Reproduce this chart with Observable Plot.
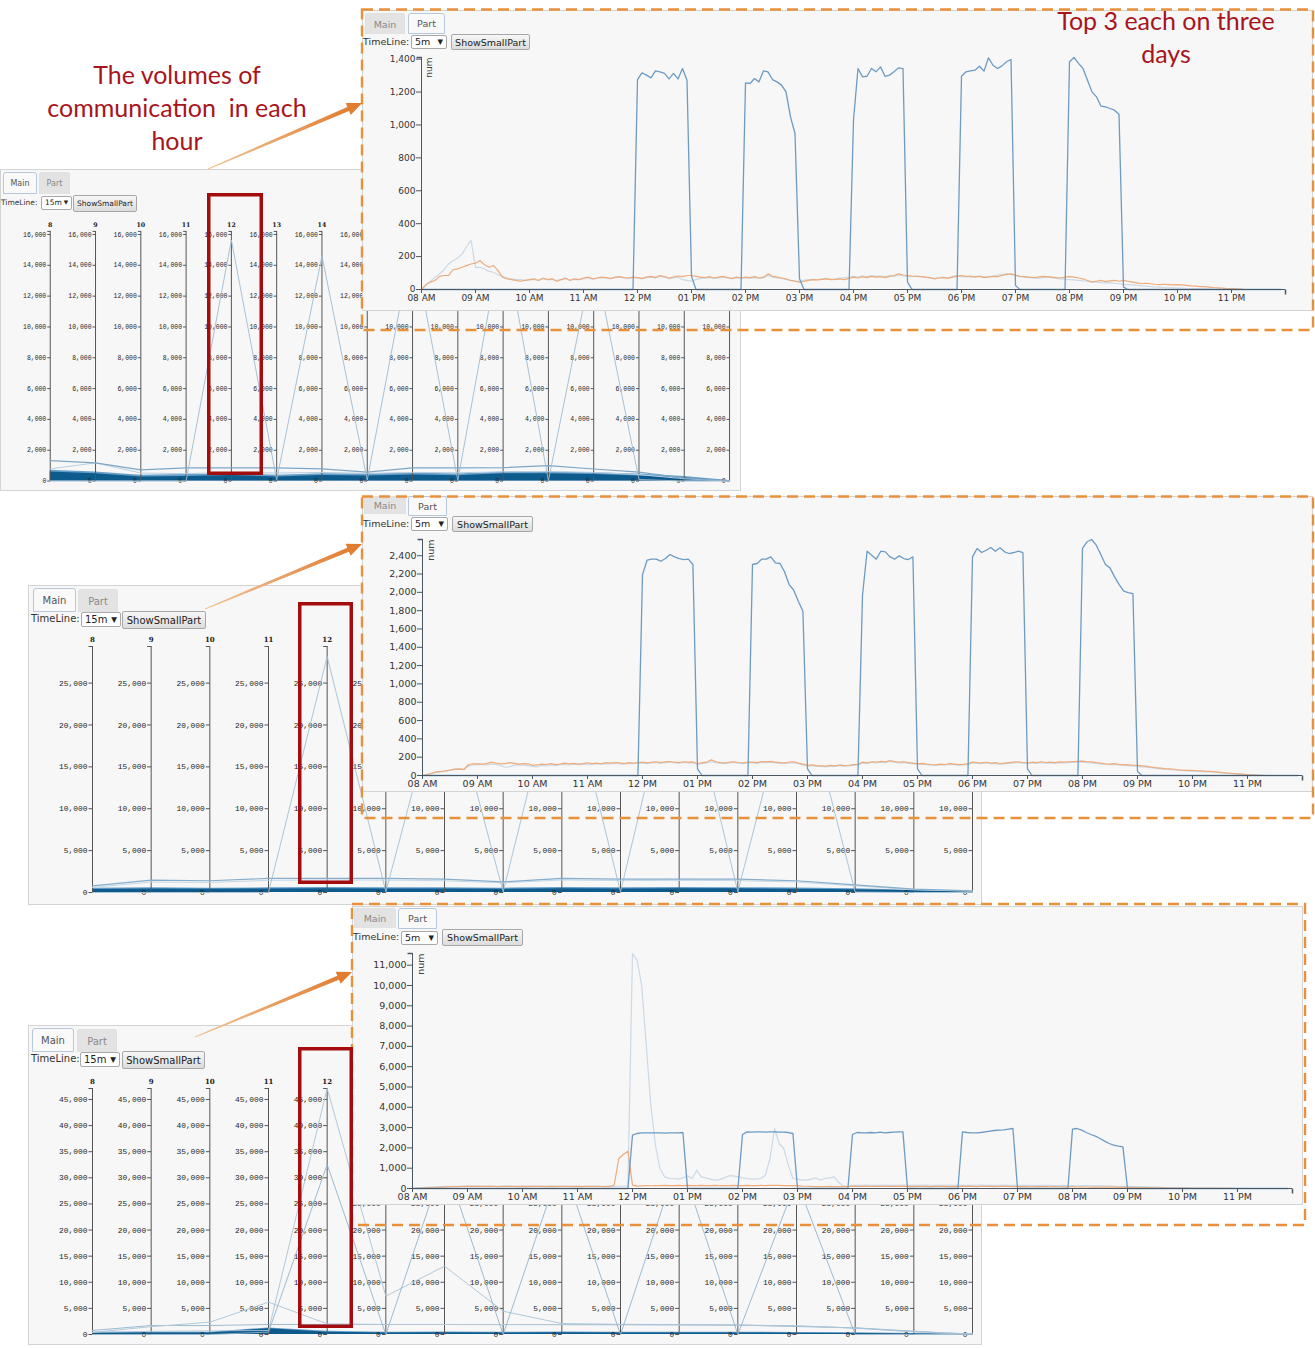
<!DOCTYPE html>
<html><head><meta charset="utf-8">
<script src="https://cdn.jsdelivr.net/npm/d3@7"></script>
<script src="https://cdn.jsdelivr.net/npm/@observablehq/plot@0.6"></script>
<style>
html,body{margin:0;padding:0;background:#fff;}
body{width:1315px;height:1348px;position:relative;overflow:hidden;font-family:"DejaVu Sans",sans-serif;}
.panel{position:absolute;background:#f7f7f7;box-shadow:inset 0 0 0 1px #d4d4d4;overflow:hidden;}
.panel svg{position:absolute;}
.tab{position:absolute;box-sizing:border-box;display:flex;align-items:center;justify-content:center;color:#8a8a8a;background:#e3e3e3;border:1px solid #e0e0e0;border-bottom:none;border-radius:3px 3px 0 0;}
.tab.on{background:#f9f9f9;border:1px solid #b7c8dc;color:#555;}
.lbl{position:absolute;line-height:1;color:#333;white-space:nowrap;}
.sel{position:absolute;box-sizing:border-box;border:1px solid #a9a9a9;background:#fff;color:#222;border-radius:2px;}
.sel .v{position:absolute;left:3px;top:50%;transform:translateY(-50%);line-height:1;}
.sel .a{position:absolute;right:3px;top:50%;transform:translateY(-55%);line-height:1;font-size:0.75em;}
.btn{position:absolute;box-sizing:border-box;border:1px solid #a8a8a8;background:linear-gradient(#f7f7f7,#dcdcdc);color:#222;display:flex;align-items:center;justify-content:center;border-radius:2px;white-space:nowrap;}
.note{position:absolute;color:#a8141c;font-family:Lato,"Open Sans",sans-serif;text-align:center;font-size:25px;line-height:33px;white-space:nowrap;}
#overlay{position:absolute;left:0;top:0;pointer-events:none;}
</style>
</head>
<body>

<div class="panel" id="m1" style="left:0;top:169px;width:741px;height:322px">
  <div class="tab on" style="left:3px;top:3px;width:34px;height:22px;font-size:8px">Main</div>
  <div class="tab" style="left:39px;top:3px;width:31px;height:22px;font-size:8px">Part</div>
  <div class="lbl" style="left:1px;top:30px;font-size:7.5px">TimeLine:</div>
  <div class="sel" style="left:41px;top:27px;width:31px;height:14px;font-size:7.5px"><span class="v">15m</span><span class="a">▼</span></div>
  <div class="btn" style="left:73px;top:26px;width:64px;height:17px;font-size:7.5px">ShowSmallPart</div>
</div>

<div class="panel" id="p1" style="left:362px;top:10px;width:951px;height:301px">
  <div class="tab" style="left:3px;top:3px;width:40px;height:21px;font-size:9.5px">Main</div>
  <div class="tab on" style="left:46px;top:3px;width:37px;height:21px;font-size:9.5px">Part</div>
  <div class="lbl" style="left:1px;top:27px;font-size:9.5px">TimeLine:</div>
  <div class="sel" style="left:49px;top:25px;width:36px;height:14px;font-size:9.5px"><span class="v">5m</span><span class="a">▼</span></div>
  <div class="btn" style="left:89px;top:24px;width:79px;height:16px;font-size:9.5px">ShowSmallPart</div>
</div>

<div class="panel" id="m2" style="left:28px;top:585px;width:954px;height:320px">
  <div class="tab on" style="left:5px;top:3px;width:43px;height:24px;font-size:10px">Main</div>
  <div class="tab" style="left:50px;top:4px;width:40px;height:23px;font-size:10px">Part</div>
  <div class="lbl" style="left:3px;top:29px;font-size:10px">TimeLine:</div>
  <div class="sel" style="left:53px;top:27px;width:40px;height:15px;font-size:10px"><span class="v">15m</span><span class="a">▼</span></div>
  <div class="btn" style="left:94px;top:26px;width:84px;height:18px;font-size:10px">ShowSmallPart</div>
</div>

<div class="panel" id="p2" style="left:362px;top:496px;width:951px;height:296px">
  <div class="tab" style="left:2px;top:0px;width:42px;height:18px;font-size:9.5px">Main</div>
  <div class="tab on" style="left:46px;top:0px;width:39px;height:20px;font-size:9.5px">Part</div>
  <div class="lbl" style="left:1px;top:23px;font-size:9.5px">TimeLine:</div>
  <div class="sel" style="left:49px;top:21px;width:37px;height:14px;font-size:9.5px"><span class="v">5m</span><span class="a">▼</span></div>
  <div class="btn" style="left:90px;top:20px;width:81px;height:16px;font-size:9.5px">ShowSmallPart</div>
</div>

<div class="panel" id="m3" style="left:28px;top:1025px;width:954px;height:320px">
  <div class="tab on" style="left:4px;top:3px;width:42px;height:24px;font-size:10px">Main</div>
  <div class="tab" style="left:49px;top:4px;width:40px;height:23px;font-size:10px">Part</div>
  <div class="lbl" style="left:3px;top:29px;font-size:10px">TimeLine:</div>
  <div class="sel" style="left:52px;top:27px;width:40px;height:15px;font-size:10px"><span class="v">15m</span><span class="a">▼</span></div>
  <div class="btn" style="left:94px;top:26px;width:83px;height:18px;font-size:10px">ShowSmallPart</div>
</div>

<div class="panel" id="p3" style="left:352px;top:906px;width:951px;height:299px">
  <div class="tab" style="left:2px;top:2px;width:42px;height:20px;font-size:9.5px">Main</div>
  <div class="tab on" style="left:46px;top:2px;width:39px;height:21px;font-size:9.5px">Part</div>
  <div class="lbl" style="left:1px;top:26px;font-size:9.5px">TimeLine:</div>
  <div class="sel" style="left:49px;top:25px;width:37px;height:14px;font-size:9.5px"><span class="v">5m</span><span class="a">▼</span></div>
  <div class="btn" style="left:90px;top:23px;width:81px;height:17px;font-size:9.5px">ShowSmallPart</div>
</div>

<svg id="overlay" width="1315" height="1348"></svg>

<div class="note" style="left:27px;top:58px;width:300px">The volumes of<br>communication&nbsp; in each<br>hour</div>
<div class="note" style="left:1016px;top:4px;width:300px">Top 3 each on three<br>days</div>

<script>
// ---------- DATA ----------
const hours = [8,9,10,11,12,13,14,15,16,17,18,19,20,21,22,23];

// Main views: hourly volumes (one value per hour axis 8..23)
const main1Ticks = [0,2000,4000,6000,8000,10000,12000,14000,16000];
const main1Spike = [0,0,0,0,15640,80,14600,65,15600,45,16200,24,14630,100,0,0];
const main1Line1 = [1330,1180,730,860,860,860,790,578,855,855,868,1003,784,578,193,20];
const main1Line2 = [790,1180,520,480,560,520,560,500,560,540,600,620,560,420,150,10];
const main1Mid   = [700,590,380,420,480,380,480,450,520,460,590,590,540,450,300,40];
const main1Dark  = [580,470,260,300,365,260,365,330,400,340,470,470,420,330,200,0];

const main2Ticks = [0,5000,10000,15000,20000,25000];
const main2Spike = [0,0,0,0,28170,100,26400,80,28340,80,29370,80,27360,50,0,0];
const main2Line1 = [800,1480,1400,1680,1680,1675,1595,1276,1675,1595,1595,1595,1400,920,400,200];
const main2Line2 = [600,1250,1200,1450,1500,1480,1400,1150,1500,1420,1450,1420,1250,800,330,150];
const main2Mid   = [500,560,520,560,600,560,570,520,600,570,610,580,540,450,280,90];
const main2Dark  = [350,420,380,420,450,420,430,380,450,430,460,440,400,330,200,60];

const main3Ticks  = [0,5000,10000,15000,20000,25000,30000,35000,40000,45000];
const main3Blue   = [0,0,0,450,32550,0,33300,0,33100,0,33900,0,29500,0,0,0];
const main3Light  = [450,600,700,770,47100,7340,13080,4460,2100,1950,1900,1800,1650,1250,550,100];
const main3Orange = [400,1500,2360,6190,2040,1915,1915,1900,1880,1860,1850,1800,1650,1200,500,100];
const main3Flat   = [770,1720,1720,1915,1915,1915,1915,1900,1900,1900,1850,1800,1530,1280,640,30];
const main3Mid    = [400,450,450,1250,600,450,470,430,470,450,450,430,400,330,200,50];
const main3Dark   = [250,300,300,1100,450,300,320,280,320,300,300,280,250,180,90,20];

// Part views: 5-minute volumes, 08:00 .. 23:55 (one row per hour)
const part1Ticks = [0,200,400,600,800,1000,1200,1400];
const part1Blue = [
 [0,0,0,0,0,0,0,0,0,0,0,0],[0,0,0,0,0,0,0,0,0,0,0,0],[0,0,0,0,0,0,0,0,0,0,0,0],[0,0,0,0,0,0,0,0,0,0,0,0],
 [1276,1317,1303,1286,1329,1323,1313,1280,1313,1280,1343,1272],
 [80,0,0,0,0,0,0,0,0,0,0,0],
 [1256,1252,1282,1262,1329,1323,1276,1262,1242,1201,1049,948],
 [65,0,0,0,0,0,0,0,0,0,0,0],
 [1030,1343,1292,1296,1343,1323,1353,1296,1303,1323,1347,1343],
 [45,0,0,0,0,0,0,0,0,0,0,0],
 [1296,1323,1329,1333,1357,1327,1408,1363,1343,1359,1384,1398],
 [24,0,0,0,0,0,0,0,0,0,0,0],
 [1384,1410,1374,1343,1272,1201,1171,1114,1110,1100,1090,1065],
 [14,0,0,0,0,0,0,0,0,0,0,0],
 [0,0,0,0,0,0,0,0,0,0,0,0],[0,0,0,0,0,0,0,0,0,0,0,0]
].flat();
const part1Orange = [
 [0,30,45,55,80,85,85,120,125,135,145,155],
 [160,176,150,135,146,115,75,65,60,55,50,55],
 [60,65,55,70,60,65,50,60,70,55,65,60],
 [70,75,65,70,75,72,68,75,78,72,70,75],
 [72,68,75,80,72,85,78,70,75,82,78,85],
 [85,80,75,72,78,70,75,80,72,68,75,70],
 [75,72,78,70,75,95,80,75,70,65,55,50],
 [45,50,55,60,58,62,65,60,62,65,60,68],
 [75,70,78,72,80,75,78,72,80,85,95,88],
 [85,82,80,78,75,72,65,70,72,68,75,80],
 [85,78,82,75,80,72,75,80,78,85,92,95],
 [88,80,78,75,72,75,80,78,75,72,70,75],
 [78,75,70,65,55,45,50,55,48,52,55,50],
 [55,50,45,40,35,38,35,32,30,32,30,28],
 [30,28,25,22,20,18,18,15,12,10,8,6],
 [6,4,2,0,0,0,0,0,0,0,0,0]
].flat();
const part1Light = [
 [0,25,50,75,95,120,155,175,190,215,260,300],
 [135,135,125,110,105,90,80,70,65,60,60,55],
 [58,62,55,65,60,62,55,58,65,58,62,60],
 [65,70,62,68,72,70,65,72,75,70,68,72],
 [70,65,72,75,70,80,75,65,70,75,60,55],
 [50,60,68,70,72,68,70,75,70,65,70,68],
 [70,68,72,68,70,85,75,72,68,62,55,52],
 [50,55,60,62,60,65,68,62,65,70,72,75],
 [80,75,82,78,85,80,82,78,85,80,88,82],
 [80,78,82,80,72,70,68,72,75,70,80,85],
 [78,80,75,78,82,78,80,82,88,92,95,90],
 [85,78,75,72,70,68,72,75,72,68,65,62],
 [60,58,55,52,50,48,45,42,40,42,38,35],
 [32,30,28,25,22,20,18,16,15,12,10,10],
 [8,8,6,6,5,5,4,4,3,3,2,2],
 [2,1,1,0,0,0,0,0,0,0,0,0]
].flat();

const part2Ticks = [0,200,400,600,800,1000,1200,1400,1600,1800,2000,2200,2400];
const part2Blue = [
 [0,0,0,0,0,0,0,0,0,0,0,0],[0,0,0,0,0,0,0,0,0,0,0,0],[0,0,0,0,0,0,0,0,0,0,0,0],[0,0,0,0,0,0,0,0,0,0,0,0],
 [2194,2351,2362,2362,2340,2369,2413,2387,2369,2358,2362,2304],
 [73,0,0,0,0,0,0,0,0,0,0,0],
 [2304,2315,2362,2362,2387,2322,2315,2223,2085,2023,1903,1793],
 [73,0,0,0,0,0,0,0,0,0,0,0],
 [1968,2449,2406,2362,2449,2442,2387,2362,2398,2369,2358,2387],
 [73,0,0,0,0,0,0,0,0,0,0,0],
 [2387,2479,2435,2460,2490,2449,2486,2442,2424,2435,2449,2435],
 [73,0,0,0,0,0,0,0,0,0,0,0],
 [2479,2552,2577,2515,2413,2304,2267,2169,2085,2012,1998,1987],
 [44,0,0,0,0,0,0,0,0,0,0,0],
 [0,0,0,0,0,0,0,0,0,0,0,0],[0,0,0,0,0,0,0,0,0,0,0,0]
].flat();
const part2Orange = [
 [0,10,25,40,44,50,60,70,73,66,117,128],
 [128,125,130,146,135,128,130,140,132,125,130,128],
 [110,115,125,120,130,118,125,135,128,132,125,130],
 [139,130,135,128,140,135,142,138,130,140,135,142],
 [146,138,145,150,140,148,153,145,140,150,145,148],
 [128,140,145,171,150,140,138,145,150,142,138,145],
 [146,140,152,148,155,145,140,138,145,150,135,125],
 [110,115,108,105,102,110,105,115,108,112,118,120],
 [146,138,150,145,155,148,164,152,145,150,140,135],
 [128,132,125,120,117,125,120,130,125,118,122,130],
 [146,140,138,145,135,140,128,135,140,145,150,142],
 [139,145,140,150,142,146,140,148,145,150,152,155],
 [157,150,148,140,135,128,125,130,120,118,115,112],
 [110,105,100,92,85,80,75,72,68,60,58,55],
 [55,52,50,46,44,40,35,30,25,22,18,15],
 [11,8,5,2,0,0,0,0,0,0,0,0]
].flat();
const part2Light = [
 [0,8,20,35,40,45,55,65,70,65,100,115],
 [118,120,115,125,120,110,90,95,110,115,112,108],
 [100,95,110,105,115,108,118,120,115,125,118,122],
 [125,120,128,122,130,128,132,128,125,132,128,135],
 [135,130,138,140,135,140,145,138,135,142,138,140],
 [120,130,138,150,140,132,130,138,142,135,130,138],
 [138,132,142,140,145,138,132,130,138,140,128,118],
 [105,108,100,98,95,102,100,108,102,105,110,115],
 [138,130,142,138,145,140,150,145,138,142,132,128],
 [120,125,118,112,110,118,112,120,118,112,115,122],
 [138,132,130,138,128,132,120,128,132,138,140,135],
 [130,138,132,140,135,138,132,140,138,140,142,145],
 [148,140,138,132,125,120,118,122,112,110,108,105],
 [100,95,90,85,78,72,68,65,60,55,52,50],
 [48,45,42,40,38,35,30,26,22,18,15,12],
 [8,6,3,1,0,0,0,0,0,0,0,0]
].flat();

const part3Ticks = [0,1000,2000,3000,4000,5000,6000,7000,8000,9000,10000,11000];
const part3Blue = [
 [0,0,0,0,0,0,0,0,0,0,0,0],[0,0,0,0,0,0,0,0,0,0,0,0],[0,0,0,0,0,0,0,0,0,0,0,0],[0,0,0,0,0,0,0,0,0,0,0,0],
 [2627,2709,2742,2742,2742,2742,2742,2725,2742,2742,2742,2758],
 [20,0,0,0,0,0,0,0,0,0,0,0],
 [2660,2791,2775,2791,2791,2775,2791,2791,2775,2775,2758,2709],
 [0,0,0,0,0,0,0,0,0,0,0,0],
 [2660,2758,2742,2742,2758,2742,2775,2742,2758,2775,2791,2791],
 [0,0,0,0,0,0,0,0,0,0,0,0],
 [2791,2758,2742,2742,2758,2791,2824,2857,2874,2890,2923,2956],
 [0,0,0,0,0,0,0,0,0,0,0,0],
 [2923,2956,2874,2758,2660,2578,2463,2332,2217,2135,2085,2053],
 [0,0,0,0,0,0,0,0,0,0,0,0],
 [0,0,0,0,0,0,0,0,0,0,0,0],[0,0,0,0,0,0,0,0,0,0,0,0]
].flat();
const part3Light = [
 [0,20,40,60,70,80,90,100,100,110,110,110],
 [120,115,120,110,115,120,110,115,120,115,110,120],
 [110,115,120,110,115,110,120,115,110,105,110,115],
 [110,105,100,110,105,100,110,105,100,110,120,130],
 [11576,11248,10016,7060,4105,2135,985,575,493,493,460,525],
 [624,493,903,575,525,460,410,440,525,624,624,575],
 [525,493,460,460,493,657,1478,2956,2217,1970,1150,493],
 [460,410,410,460,525,410,493,525,575,300,120,90],
 [160,150,160,170,160,150,160,170,160,155,160,165],
 [160,150,155,160,170,160,150,155,160,165,160,150],
 [160,150,155,160,165,160,155,150,160,165,160,155],
 [150,160,155,150,145,150,155,150,145,140,150,145],
 [140,135,130,140,135,130,125,130,120,115,110,105],
 [100,95,90,85,80,70,65,60,50,45,40,35],
 [30,28,25,22,20,18,15,12,10,8,6,5],
 [4,3,2,1,0,0,0,0,0,0,0,0]
].flat();
const part3Orange = [
 [0,10,20,30,40,50,60,70,80,90,95,100],
 [100,105,110,100,105,110,100,95,100,105,100,95],
 [100,95,100,105,100,95,100,95,100,105,100,95],
 [100,95,100,105,110,100,95,100,170,1478,1675,1839],
 [164,120,130,140,135,140,145,150,140,145,150,140],
 [150,145,140,150,145,140,150,145,140,145,150,140],
 [145,150,140,145,150,145,150,155,150,145,140,145],
 [140,120,110,100,95,90,95,100,95,90,95,100],
 [100,110,105,100,110,105,100,110,105,100,110,105],
 [100,95,100,105,100,95,100,105,100,95,100,95],
 [100,105,100,95,100,105,100,95,100,105,100,95],
 [90,95,90,85,90,95,90,85,90,85,80,85],
 [80,75,80,75,70,75,70,65,70,65,60,60],
 [55,50,50,45,40,40,35,30,30,25,20,20],
 [18,15,12,10,8,6,5,4,3,2,2,1],
 [0,0,0,0,0,0,0,0,0,0,0,0]
].flat();

// ---------- CHARTS ----------
const fmt = d3.format(",");
const leftTick = len => ({draw(ctx){ctx.moveTo(-len,0);ctx.lineTo(0,0);}});
const downTick = len => ({draw(ctx){ctx.moveTo(0,0);ctx.lineTo(0,len);}});

function mainChart(c){
  const ymax = d3.max(c.lines.flatMap(l => l.values));
  const rows = vals => hours.map((h,i) => ({h, v: vals[i]}));
  const tickData = hours.flatMap(h => c.ticks.map(v => ({h, v})));
  const marks = [
    Plot.areaY(rows(c.mid), {x:"h", y:"v", fill:"#4f8fbf", fillOpacity:0.85}),
    Plot.areaY(rows(c.dark), {x:"h", y:"v", fill:"#0d5a8c"}),
    Plot.ruleX(hours, {y1:0, y2:ymax, stroke:"#555", strokeWidth:1}),
    Plot.dot(tickData, {x:"h", y:"v", symbol:leftTick(c.tl), stroke:"#555", fill:"none", strokeWidth:1}),
    Plot.dot(hours, {x:d=>d, y:()=>ymax, symbol:leftTick(c.tl), stroke:"#555", fill:"none", strokeWidth:1}),
    Plot.text(tickData, {x:"h", y:"v", text:d=>fmt(d.v), textAnchor:"end", dx:-(c.tl+1), fontSize:c.fs, fontFamily:"Liberation Mono", fill:"#1e1e1e"}),
    Plot.text(hours, {x:d=>d, y:()=>ymax, text:d=>String(d), dy:-c.hdy, fontSize:c.hs, fontWeight:"bold", fontFamily:"DejaVu Serif", fill:"#222"})
  ];
  for (const l of c.lines) marks.push(Plot.line(rows(l.values), {x:"h", y:"v", stroke:l.color, strokeWidth:l.w || 1, strokeOpacity:l.o || 1}));
  const svg = Plot.plot({
    width:c.w, height:c.h, marginLeft:c.ml, marginRight:c.mr, marginTop:c.mt, marginBottom:c.mb,
    x:{domain:[8,23], axis:null}, y:{domain:[0,ymax], axis:null},
    style:{background:"transparent", overflow:"visible"},
    marks
  });
  svg.style.left = c.left + "px"; svg.style.top = c.top + "px";
  document.getElementById(c.id).appendChild(svg);
  return svg;
}

function partChart(c){
  const t0 = new Date(Date.UTC(2016,0,1,8)), t1 = new Date(Date.UTC(2016,0,2,0));
  const rows = vals => vals.map((v,i) => ({t:new Date(Date.UTC(2016,0,1,8,5*i)), v}));
  const ymax = d3.max([...c.blue, ...c.orange, ...c.light]);
  const xTicks = hours.map(h => new Date(Date.UTC(2016,0,1,h)));
  const ax = "#4a5661";
  const svg = Plot.plot({
    width:c.w, height:c.h, marginLeft:c.ml, marginRight:c.mr, marginTop:c.mt, marginBottom:c.mb,
    x:{type:"utc", domain:[t0,t1]}, y:{domain:[0,ymax]},
    style:{background:"transparent", overflow:"visible", fontFamily:"DejaVu Sans", fontSize:c.fs+"px", color:"#333"},
    marks:[
      Plot.line(rows(c.light), {x:"t", y:"v", stroke:"#ccd9e6", strokeWidth:1.2}),
      Plot.line(rows(c.orange), {x:"t", y:"v", stroke:"#eeab7b", strokeWidth:1.2}),
      Plot.line(rows(c.blue), {x:"t", y:"v", stroke:"#6d9bc3", strokeWidth:1.3}),
      Plot.ruleY([0], {x1:t0, x2:t1, stroke:ax}),
      Plot.ruleX([t0], {y1:0, y2:ymax, stroke:ax}),
      Plot.dot([ymax], {x:t0, y:d=>d, symbol:leftTick(5), stroke:ax, fill:"none"}),
      Plot.dot([t1], {x:d=>d, y:0, symbol:downTick(5), stroke:ax, fill:"none"}),
      Plot.axisX({ticks:xTicks, tickFormat:d3.utcFormat("%I %p"), tickSize:4, tickPadding:1, label:null, stroke:ax, fill:"#333"}),
      Plot.axisY({ticks:c.ticks, tickFormat:fmt, tickSize:5, tickPadding:1, label:null, stroke:ax, fill:"#333"}),
      Plot.text(["num"], {x:t0, y:ymax, text:d=>d, rotate:-90, textAnchor:"end", dx:8, dy:0, fontSize:c.fs, fill:"#444"})
    ]
  });
  svg.style.left = c.left + "px"; svg.style.top = c.top + "px";
  document.getElementById(c.id).appendChild(svg);
}

const s1 = mainChart({id:"m1", left:0, top:46, w:745, h:275, ml:50, mr:12, mt:16, mb:8, fs:6.5, hs:6.3, hdy:6, tl:3,
  ticks:main1Ticks, mid:main1Mid, dark:main1Dark,
  lines:[{values:main1Line2, color:"#b7cfe2"}, {values:main1Line1, color:"#7ea7c7", w:1.2}, {values:main1Spike, color:"#9ebbd1", w:0.9}]});
const s2 = mainChart({id:"m2", left:0, top:47, w:954, h:270, ml:64, mr:10, mt:14, mb:10, fs:7.9, hs:7, hdy:7, tl:4,
  ticks:main2Ticks, mid:main2Mid, dark:main2Dark,
  lines:[{values:main2Line2, color:"#c4d7e6"}, {values:main2Line1, color:"#86adcb", w:1.2}, {values:main2Spike, color:"#a3bfd4", w:0.9}]});
const s3 = mainChart({id:"m3", left:0, top:47, w:954, h:270, ml:64, mr:10, mt:16, mb:8, fs:7.9, hs:7, hdy:7, tl:4,
  ticks:main3Ticks, mid:main3Mid, dark:main3Dark,
  lines:[{values:main3Flat, color:"#9ebbd1"}, {values:main3Orange, color:"#b4cadb"}, {values:main3Light, color:"#a9c3d6", w:0.9}, {values:main3Blue, color:"#93b3cb", w:0.9}]});

partChart({id:"p1", left:0, top:42, w:951, h:259, ml:59, mr:28, mt:5, mb:22, fs:9, ticks:part1Ticks, blue:part1Blue, orange:part1Orange, light:part1Light});
partChart({id:"p2", left:0, top:38, w:951, h:258, ml:60, mr:11, mt:5, mb:17, fs:9.5, ticks:part2Ticks, blue:part2Blue, orange:part2Orange, light:part2Light});
partChart({id:"p3", left:0, top:42, w:951, h:257, ml:60, mr:11, mt:5, mb:17, fs:9.5, ticks:part3Ticks, blue:part3Blue, orange:part3Orange, light:part3Light});

// Main-view labels that lie completely under the pasted Part screenshot are not visible; drop them.
[[s1,"p1"],[s2,"p2"],[s3,"p3"]].forEach(([svg,pid]) => {
  const P = document.getElementById(pid).getBoundingClientRect();
  svg.querySelectorAll("text").forEach(t => {
    const r = t.getBoundingClientRect();
    if (r.left >= P.left && r.right <= P.right && r.top >= P.top && r.bottom <= P.bottom) t.remove();
  });
});

// ---------- ANNOTATIONS (layout decoration) ----------
const ov = d3.select("#overlay");
const defs = ov.append("defs");
const dashBoxes = [[362,9.5,1313,330],[362,496.5,1313,818],[352,904,1305,1225]];
const redBoxes = [[207,193,263,475],[298,602,353,884],[298,1047,353,1328]];
const arrows = [[208,169,362,103],[205,609,362,544],[195,1037,352,972]];
for (const [x0,y0,x1,y1] of dashBoxes)
  ov.append("rect").attr("x",x0).attr("y",y0).attr("width",x1-x0).attr("height",y1-y0)
    .attr("fill","none").attr("stroke","#e8913a").attr("stroke-width",2.4).attr("stroke-dasharray","11 6");
for (const [x0,y0,x1,y1] of redBoxes)
  ov.append("rect").attr("x",x0+1.75).attr("y",y0+1.75).attr("width",x1-x0-3.5).attr("height",y1-y0-3.5)
    .attr("fill","none").attr("stroke","#a30d0d").attr("stroke-width",3.5);
arrows.forEach(([x1,y1,x2,y2],k) => {
  const g = defs.append("linearGradient").attr("id","ag"+k).attr("gradientUnits","userSpaceOnUse")
    .attr("x1",x1).attr("y1",y1).attr("x2",x2).attr("y2",y2);
  g.append("stop").attr("offset",0).attr("stop-color","#f3c69a");
  g.append("stop").attr("offset",1).attr("stop-color","#e0782a");
  const dx=x2-x1, dy=y2-y1, L=Math.hypot(dx,dy), ux=dx/L, uy=dy/L, nx=-uy, ny=ux;
  const hl=15, hw=6.5, w0=0.6, w1=2.2;
  const bx=x2-ux*hl, by=y2-uy*hl;
  const pts=[[x1+nx*w0,y1+ny*w0],[bx+nx*w1,by+ny*w1],[bx+nx*hw,by+ny*hw],[x2,y2],[bx-nx*hw,by-ny*hw],[bx-nx*w1,by-ny*w1],[x1-nx*w0,y1-ny*w0]];
  ov.append("polygon").attr("points",pts.map(p=>p.join(",")).join(" ")).attr("fill","url(#ag"+k+")");
});
</script>
</body></html>
